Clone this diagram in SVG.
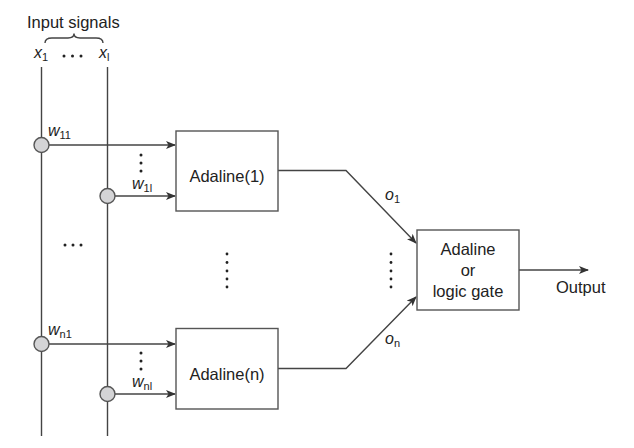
<svg xmlns="http://www.w3.org/2000/svg" width="634" height="448" viewBox="0 0 634 448">
<defs>
<style>
.ln{stroke:#444;stroke-width:1.4;fill:none}
.bx{fill:#fff;stroke:#555;stroke-width:1.4}
.nd{fill:#d4d4d6;stroke:#555;stroke-width:1.4}
.t{font-family:"Liberation Sans",Arial,sans-serif;font-size:16.5px;fill:#222}
.it{font-family:"Liberation Sans",Arial,sans-serif;font-size:16px;font-style:italic;fill:#222}
.sb{font-family:"Liberation Sans",Arial,sans-serif;font-size:11px;font-style:normal;fill:#222}
.dot{fill:#222}
</style>
<marker id="ah" markerWidth="10" markerHeight="8" refX="9" refY="4" orient="auto" markerUnits="userSpaceOnUse">
<path d="M0,0 L10,4 L0,8 L2.5,4 Z" fill="#333"/>
</marker>
</defs>
<rect width="634" height="448" fill="#fff"/>

<g id="input-signals">
<text class="t" x="27" y="28">Input signals</text>
<path class="ln" stroke-width="1.1" d="M45,43 Q45,38 52,38 L68,38 Q74,38 74,33.5 Q74,38 80,38 L96,38 Q103,38 103,43"/>
<text class="it" x="34" y="58">x<tspan class="sb" dy="3">1</tspan></text>
<circle class="dot" cx="64" cy="56" r="1.5"/><circle class="dot" cx="72.5" cy="56" r="1.5"/><circle class="dot" cx="81" cy="56" r="1.5"/>
<text class="it" x="99" y="58">x<tspan class="sb" dy="3">l</tspan></text>
</g>

<g id="connectors">
<line class="ln" x1="41.5" y1="67" x2="41.5" y2="436"/>
<line class="ln" x1="107.5" y1="67" x2="107.5" y2="436"/>
<line class="ln" x1="49" y1="145" x2="175" y2="145" marker-end="url(#ah)"/>
<line class="ln" x1="115" y1="196" x2="175" y2="196" marker-end="url(#ah)"/>
<line class="ln" x1="49" y1="344" x2="175" y2="344" marker-end="url(#ah)"/>
<line class="ln" x1="115" y1="394" x2="175" y2="394" marker-end="url(#ah)"/>
<polyline class="ln" points="278,170.5 346,170.5 416,243" marker-end="url(#ah)"/>
<polyline class="ln" points="278,368.5 346,368.5 416,297" marker-end="url(#ah)"/>
<line class="ln" x1="519" y1="270" x2="588" y2="270" marker-end="url(#ah)"/>
</g>

<g id="node-w11">
<circle class="nd" cx="41.5" cy="145" r="7.5"/>
<text class="it" x="48" y="136">w<tspan class="sb" dy="3">11</tspan></text>
</g>
<g id="node-w1l">
<circle class="nd" cx="107.5" cy="196" r="7.5"/>
<text class="it" x="132" y="189">w<tspan class="sb" dy="3">1</tspan><tspan class="sb" font-style="italic">l</tspan></text>
</g>
<g id="node-wn1">
<circle class="nd" cx="41.5" cy="344" r="7.5"/>
<text class="it" x="48" y="335">w<tspan class="sb" dy="3">n1</tspan></text>
</g>
<g id="node-wnl">
<circle class="nd" cx="107.5" cy="394" r="7.5"/>
<text class="it" x="132" y="387">w<tspan class="sb" dy="3">nl</tspan></text>
</g>

<g id="dots">
<circle class="dot" cx="141" cy="155" r="1.5"/><circle class="dot" cx="141" cy="163" r="1.5"/><circle class="dot" cx="141" cy="171" r="1.5"/>
<circle class="dot" cx="141" cy="353" r="1.5"/><circle class="dot" cx="141" cy="361" r="1.5"/><circle class="dot" cx="141" cy="369" r="1.5"/>
<circle class="dot" cx="65" cy="245" r="1.5"/><circle class="dot" cx="73" cy="245" r="1.5"/><circle class="dot" cx="81" cy="245" r="1.5"/>
<circle class="dot" cx="227" cy="254" r="1.4"/><circle class="dot" cx="227" cy="262.5" r="1.4"/><circle class="dot" cx="227" cy="271" r="1.4"/><circle class="dot" cx="227" cy="279" r="1.4"/><circle class="dot" cx="227" cy="287" r="1.4"/>
<circle class="dot" cx="391" cy="254" r="1.4"/><circle class="dot" cx="391" cy="262.5" r="1.4"/><circle class="dot" cx="391" cy="271" r="1.4"/><circle class="dot" cx="391" cy="279" r="1.4"/><circle class="dot" cx="391" cy="287" r="1.4"/>
</g>

<g id="adaline-1">
<rect class="bx" x="176" y="131" width="102" height="80"/>
<text class="t" x="227" y="182" text-anchor="middle">Adaline(1)</text>
</g>
<g id="adaline-n">
<rect class="bx" x="176" y="328.5" width="102" height="80.5"/>
<text class="t" x="227" y="380" text-anchor="middle">Adaline(n)</text>
</g>
<g id="adaline-or-gate">
<rect class="bx" x="417" y="230" width="102" height="80"/>
<text class="t" x="468" y="255" text-anchor="middle">Adaline</text>
<text class="t" x="468" y="276" text-anchor="middle">or</text>
<text class="t" x="468" y="297" text-anchor="middle">logic gate</text>
</g>

<g id="labels">
<text class="it" x="385" y="200">o<tspan class="sb" dy="3">1</tspan></text>
<text class="it" x="385" y="344">o<tspan class="sb" dy="3" font-style="italic">n</tspan></text>
<text class="t" x="556" y="293">Output</text>
</g>
</svg>
